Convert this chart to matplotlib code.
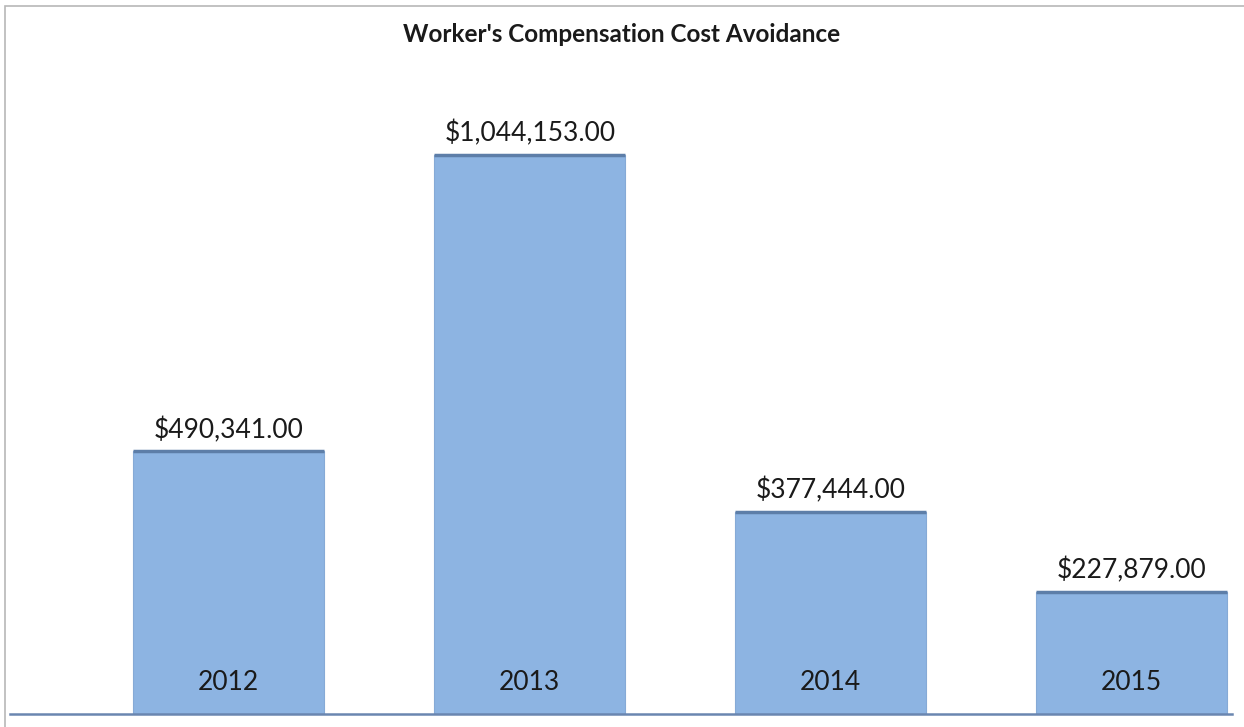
import matplotlib.pyplot as plt
from matplotlib.patches import Rectangle

# data
years = ['2012', '2013', '2014', '2015']
avoided = [490341.00, 1044153.00, 377444.00, 227879.00]

plt.rcParams['font.family'] = ['Lato', 'DejaVu Sans']

fig = plt.figure(figsize=(12.44, 7.27), dpi=100)
ax = fig.add_axes([10 / 1244, 13 / 727, 1222 / 1244, 708 / 727])

x = list(range(len(years)))
bars = ax.bar(x, avoided, width=0.635, color='#8db4e2', edgecolor='#86aad6',
              linewidth=0.8, zorder=2)

# darker top edge on each bar
for b in bars:
    ax.hlines(b.get_height(), b.get_x(), b.get_x() + b.get_width(),
              color='#5d7ea8', linewidth=2.5, zorder=3)

for xi, v in zip(x, avoided):
    ax.annotate(f'${v:,.2f}', (xi, v), xytext=(0, 6), textcoords='offset points',
                ha='center', va='bottom', fontsize=19, color='#1a1a1a')

for xi, yr in zip(x, years):
    ax.text(xi, 0.045, yr, transform=ax.get_xaxis_transform(), ha='center',
            va='center', fontsize=19, color='#1a1a1a', zorder=4)

ax.set_xlim(-0.727, 3.333)
ax.set_ylim(0, 1322500)
for s in ['top', 'right', 'left']:
    ax.spines[s].set_visible(False)
ax.spines['bottom'].set_color('#6a86b0')
ax.spines['bottom'].set_linewidth(1.8)
ax.set_xticks([])
ax.set_yticks([])

fig.text(0.5, 1 - 35 / 727, "Worker's Compensation Cost Avoidance",
         ha='center', va='center', fontsize=17.5, fontweight='bold', color='#1a1a1a')

# chart frame (left and top visible in the scan)
fig.add_artist(Rectangle((5 / 1244, -0.01), 1.5, (727 - 6) / 727 + 0.01,
                         transform=fig.transFigure, fill=False,
                         edgecolor='#b8b8b8', linewidth=1.2))

fig.savefig('out.png', dpi=100, facecolor='white')
